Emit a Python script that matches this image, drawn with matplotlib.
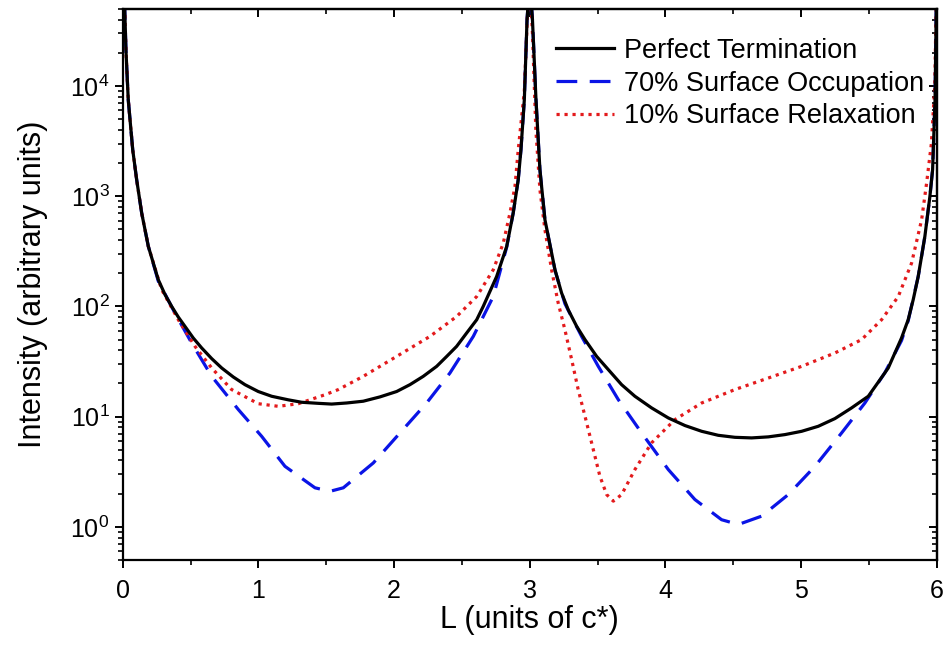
import matplotlib
matplotlib.use("Agg")
import matplotlib.pyplot as plt

plt.rcParams['font.family'] = ['Liberation Sans', 'DejaVu Sans']
plt.rcParams['mathtext.default'] = 'regular'

# Perfect termination (black, solid)
perfect_L = [0.010, 0.024, 0.041, 0.074, 0.103, 0.140, 0.189, 0.262, 0.312, 0.361,
             0.410, 0.459, 0.520, 0.582, 0.656, 0.730, 0.815, 0.901, 0.999, 1.098,
             1.221, 1.319, 1.442, 1.540, 1.651, 1.773, 1.896, 2.019, 2.117, 2.215,
             2.314, 2.388, 2.461, 2.535, 2.609, 2.657, 2.756, 2.830, 2.878, 2.915,
             2.935, 2.960, 2.980, 3.000, 3.020, 3.046, 3.075, 3.112, 3.186, 3.235,
             3.284, 3.346, 3.407, 3.493, 3.579, 3.677, 3.775, 3.898, 4.021, 4.144,
             4.267, 4.389, 4.512, 4.635, 4.758, 4.881, 5.004, 5.126, 5.249, 5.372,
             5.495, 5.568, 5.642, 5.691, 5.740, 5.789, 5.826, 5.863, 5.912, 5.949,
             5.969, 5.987, 5.998]
perfect_I = [80000, 21000, 7480, 2630, 1409, 703, 350, 175, 128, 100,
             80, 65.9, 51.7, 42, 33.6, 27.6, 22.9, 19.5, 16.9, 15.3,
             14.2, 13.5, 13.2, 13.0, 13.3, 13.8, 15.1, 16.9, 19.5, 23.2,
             28.6, 35.2, 43.4, 57.4, 75.7, 100, 187, 350, 703, 1409,
             2630, 7480, 40000, 90000, 40000, 7480, 1738, 611, 215, 132,
             93, 65.9, 50, 35.2, 26.7, 19.5, 15.3, 12.0, 9.73, 8.3,
             7.36, 6.77, 6.49, 6.41, 6.55, 6.87, 7.36, 8.17, 9.6, 12.0,
             15.3, 20.5, 27.6, 37.8, 51.7, 75.7, 115, 187, 431, 993,
             1738, 7480, 80000]

# 70% surface occupation (blue, dashed)
occup_L = [0.010, 0.024, 0.041, 0.074, 0.103, 0.140, 0.189, 0.262, 0.385, 0.508,
           0.656, 0.852, 1.024, 1.196, 1.417, 1.528, 1.626, 1.847, 2.043, 2.240,
           2.412, 2.584, 2.731, 2.830, 2.878, 2.915, 2.935, 2.960, 2.980, 3.000,
           3.020, 3.046, 3.075, 3.112, 3.186, 3.259, 3.382, 3.505, 3.652, 3.825,
           4.021, 4.217, 4.414, 4.537, 4.709, 4.905, 5.102, 5.298, 5.470, 5.617,
           5.740, 5.789, 5.863, 5.912, 5.949, 5.969, 5.987, 5.998]
occup_I = [80000, 21000, 7480, 2630, 1409, 703, 350, 170, 87, 46.6,
           23.2, 11.6, 6.63, 3.54, 2.26, 2.1, 2.26, 3.8, 7.1, 13.3,
           24.9, 53.5, 123, 345, 703, 1409, 2630, 7480, 40000, 90000,
           40000, 7480, 1738, 611, 213, 106, 53.5, 28.6, 14.3, 7.1,
           3.31, 1.77, 1.16, 1.05, 1.25, 1.96, 3.54, 7.1, 13.3, 25,
           49, 74, 187, 431, 993, 1738, 7480, 80000]

# 10% surface relaxation (red, dotted)
relax_L = [0.010, 0.024, 0.041, 0.074, 0.103, 0.140, 0.189, 0.287, 0.410, 0.533,
           0.656, 0.803, 0.999, 1.147, 1.294, 1.491, 1.589, 1.773, 2.019, 2.265,
           2.461, 2.609, 2.731, 2.805, 2.854, 2.891, 2.915, 2.960, 2.985, 3.000,
           3.020, 3.045, 3.075, 3.112, 3.161, 3.210, 3.259, 3.309, 3.357, 3.407,
           3.456, 3.517, 3.567, 3.616, 3.677, 3.775, 3.898, 4.070, 4.267, 4.512,
           4.758, 5.004, 5.249, 5.446, 5.593, 5.716, 5.814, 5.888, 5.925, 5.960,
           5.985, 5.998]
relax_I = [80000, 21000, 7480, 2630, 1409, 703, 350, 142, 75.7, 43.4,
           27.6, 17.6, 13.1, 12.4, 13.1, 15.8, 17.6, 23.2, 35.2, 53.5,
           81, 123, 215, 376, 703, 1224, 2630, 9000, 50000, 90000,
           30000, 4000, 1143, 496, 215, 107, 61.5, 32.9, 17.6, 10.1,
           5.78, 2.88, 1.96, 1.71, 1.96, 3.31, 5.78, 9.4, 13.3, 17.6,
           22.4, 28.6, 37.8, 50, 75.7, 123, 247, 611, 1318, 3000,
           10000, 80000]

fig = plt.figure(figsize=(9.47, 6.45), dpi=100)
ax = fig.add_axes([122.7 / 947, 85 / 645, 814.1 / 947, 551 / 645])

ax.plot(perfect_L, perfect_I, color='black', lw=2.3, label='Perfect Termination',
        solid_joinstyle='round', zorder=3)
ax.plot(occup_L, occup_I, color='#0a14e6', lw=2.3, linestyle=(0, (6.5, 3.9)),
        label='70% Surface Occupation', zorder=2)
ax.plot(relax_L, relax_I, color='#e31a1c', lw=2.3, linestyle=(0, (1, 1.5)),
        label='10% Surface Relaxation', zorder=2)

ax.set_yscale('log')
ax.set_xlim(0, 6)
ax.set_ylim(0.5, 5e4)
ax.set_xticks([0, 1, 2, 3, 4, 5, 6])
ax.set_xticks([0.5, 1.5, 2.5, 3.5, 4.5, 5.5], minor=True)

for spine in ax.spines.values():
    spine.set_linewidth(1.6)

ax.tick_params(axis='both', which='major', labelsize=18, width=1.4, length=6, direction='out')
ax.tick_params(axis='both', which='minor', width=1.2, length=3.5, direction='out')
ax.tick_params(axis='x', which='major', pad=8)

# mirrored ticks on top and right, pointing inwards
top = ax.secondary_xaxis('top')
top.set_xticks([0, 1, 2, 3, 4, 5, 6])
top.set_xticks([0.5, 1.5, 2.5, 3.5, 4.5, 5.5], minor=True)
top.tick_params(which='major', direction='in', length=6, width=1.4, labeltop=False)
top.tick_params(which='minor', direction='in', length=3.5, width=1.2)
top.spines['top'].set_linewidth(1.6)

right = ax.secondary_yaxis('right')
right.tick_params(which='major', direction='in', length=6, width=1.4, labelright=False)
right.tick_params(which='minor', direction='in', length=3.5, width=1.2, labelright=False)
right.spines['right'].set_linewidth(1.6)

ax.set_xlabel('L (units of c*)', fontsize=22, labelpad=1)
ax.set_ylabel('Intensity (arbitrary units)', fontsize=22, labelpad=16)

ax.legend(loc='upper right', bbox_to_anchor=(1.004, 0.977), frameon=False, fontsize=19.5,
          handlelength=2.15, handletextpad=0.35, labelspacing=0.25, borderaxespad=0.2)

fig.savefig('out.png', dpi=100)
